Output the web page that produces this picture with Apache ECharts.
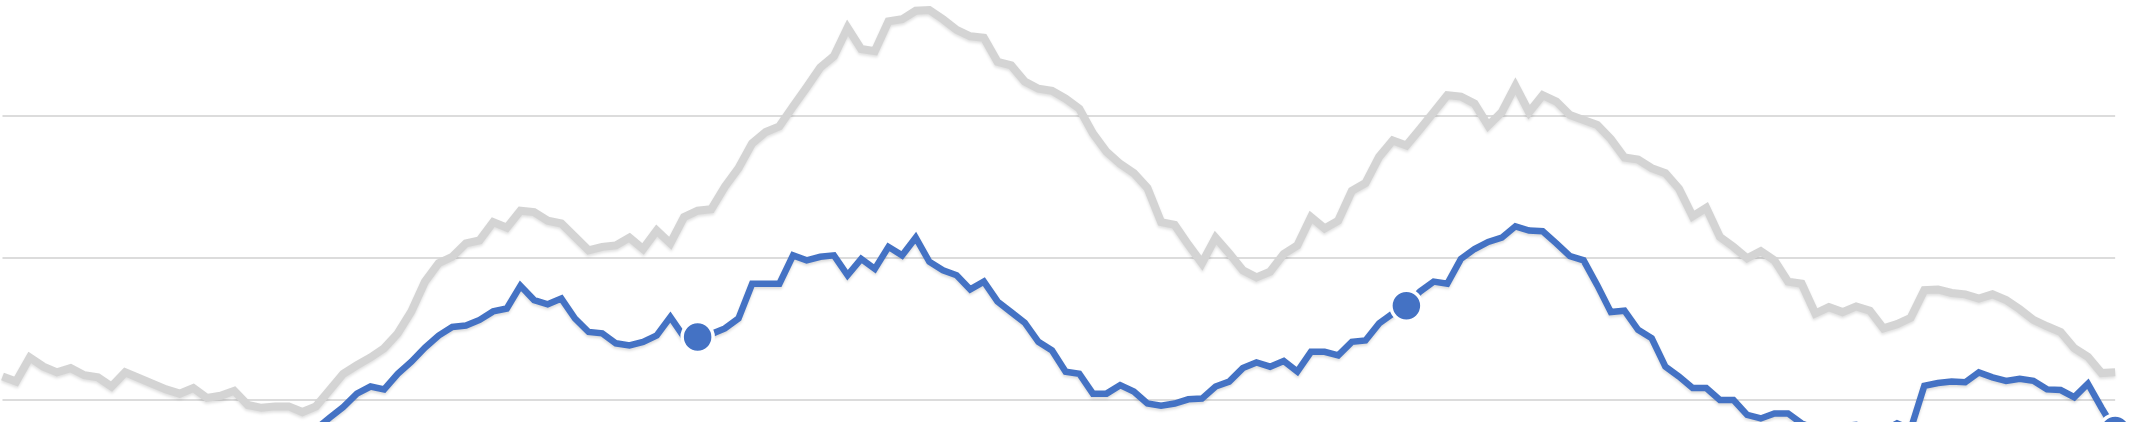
<!DOCTYPE html>
<html>
<head>
<meta charset="utf-8">
<script src="https://cdn.jsdelivr.net/npm/echarts@6/dist/echarts.min.js"></script>
<style>
html,body{margin:0;padding:0;background:#ffffff;}
#chart{width:2130px;height:422px;}
</style>
</head>
<body>
<div id="chart"></div>
<script>
// ---- data (weekly, 3 years x 52 weeks) ----
const years = ['Y1', 'Y2', 'Y3'];
const weeksPerYear = 52;

// light gray series
const grayValues = [
  41.6, 41.25, 42.95, 42.3, 41.9, 42.2, 41.7, 41.55, 40.9, 41.9,
  41.5, 41.1, 40.7, 40.4, 40.8, 40.1, 40.25, 40.6, 39.6, 39.4,
  39.5, 39.5, 39.1, 39.5, 40.65, 41.8, 42.4, 42.95, 43.6, 44.65,
  46.2, 48.3, 49.6, 50.05, 51.0, 51.2, 52.5, 52.1, 53.3, 53.2,
  52.6, 52.4, 51.45, 50.5, 50.75, 50.85, 51.4, 50.6, 51.9, 51.0,
  52.85, 53.3, 53.4, 55.0, 56.3, 58.05, 58.85, 59.25, 60.65, 62.0,
  63.4, 64.2, 66.2, 64.7, 64.55, 66.65, 66.8, 67.4, 67.45, 66.8,
  66.05, 65.6, 65.5, 63.8, 63.55, 62.4, 61.9, 61.75, 61.2, 60.5,
  58.75, 57.45, 56.6, 55.95, 54.9, 52.5, 52.3, 50.9, 49.6, 51.4,
  50.3, 49.1, 48.6, 49.0, 50.25, 50.85, 52.85, 52.05, 52.6, 54.7,
  55.25, 57.1, 58.25, 57.9, 59.05, 60.25, 61.45, 61.35, 60.85, 59.3,
  60.25, 62.1, 60.25, 61.45, 61.0, 60.05, 59.7, 59.35, 58.35, 57.05,
  56.9, 56.3, 55.95, 54.85, 52.9, 53.5, 51.45, 50.75, 49.95, 50.45,
  49.8, 48.3, 48.15, 46.05, 46.5, 46.15, 46.55, 46.25, 45.0, 45.3,
  45.75, 47.7, 47.75, 47.5, 47.4, 47.1, 47.4, 47.0, 46.35, 45.6,
  45.15, 44.75, 43.6, 43.0, 41.85, 41.9
];

// blue series
const blueValues = [
  36.8, 36.5, 36.9, 36.6, 36.4, 36.7, 36.3, 36.1, 36.4, 36.0,
  35.8, 36.1, 35.9, 35.6, 35.9, 35.7, 35.5, 35.8, 36.0, 36.3,
  36.6, 37.0, 37.4, 37.9, 38.7, 39.45, 40.4, 40.9, 40.7, 41.8,
  42.65, 43.65, 44.5, 45.1, 45.2, 45.6, 46.2, 46.4, 48.0, 47.0,
  46.7, 47.1, 45.7, 44.75, 44.65, 43.95, 43.8, 44.05, 44.5, 45.8,
  44.4, 44.4, 44.6, 45.0, 45.7, 48.15, 48.15, 48.15, 50.15, 49.8,
  50.05, 50.15, 48.75, 49.9, 49.2, 50.75, 50.15, 51.4, 49.7, 49.1,
  48.75, 47.75, 48.3, 46.9, 46.15, 45.4, 44.05, 43.45, 41.95, 41.8,
  40.4, 40.4, 41.0, 40.55, 39.7, 39.55, 39.7, 40.0, 40.05, 40.9,
  41.25, 42.2, 42.6, 42.3, 42.7, 41.95, 43.35, 43.35, 43.1, 44.05,
  44.15, 45.35, 46.05, 46.6, 47.6, 48.3, 48.15, 49.9, 50.6, 51.1,
  51.4, 52.2, 51.9, 51.85, 51.0, 50.1, 49.8, 48.05, 46.15, 46.25,
  44.9, 44.3, 42.3, 41.6, 40.8, 40.8, 39.95, 39.95, 38.9, 38.65,
  39.0, 39.0, 38.3, 37.9, 38.0, 38.1, 38.2, 37.9, 37.8, 38.3,
  37.9, 40.95, 41.15, 41.25, 41.2, 41.9, 41.55, 41.3, 41.45, 41.3,
  40.7, 40.65, 40.15, 41.1, 39.4, 37.8
];

// year-end points highlighted with a dot on the blue line
const markerIdx = [51, 103, 155];

// y-axis gridline values
const yMin = 30, yMax = 70, yStep = 10;

// ---- build ----
const categories = [];
years.forEach(y => { for (let w = 1; w <= weeksPerYear; w++) categories.push(y + '-W' + w); });

const blueData = blueValues.map((v, i) => markerIdx.includes(i)
  ? { value: v, symbol: 'circle', symbolSize: 31,
      itemStyle: { color: '#4472C4', borderColor: '#ffffff', borderWidth: 3.5 } }
  : { value: v, symbol: 'none' });

const chart = echarts.init(document.getElementById('chart'), null, { renderer: 'canvas' });
chart.setOption({
  animation: false,
  backgroundColor: '#ffffff',
  grid: { left: 2.5, right: 14.85, top: -26.1, bottom: -119.1, outerBoundsMode: 'none', containLabel: false },
  xAxis: {
    type: 'category', data: categories, boundaryGap: false,
    axisLine: { show: false }, axisTick: { show: false }, axisLabel: { show: false },
    splitLine: { show: false }
  },
  yAxis: {
    type: 'value', min: yMin, max: yMax, interval: yStep,
    axisLine: { show: false }, axisTick: { show: false }, axisLabel: { show: false },
    splitLine: { show: true, lineStyle: { color: '#dcdcdc', width: 2 } }
  },
  series: [
    {
      name: 'Gray', type: 'line', data: grayValues, symbol: 'none',
      lineStyle: { color: '#d4d4d4', width: 8, join: 'miter',
        shadowColor: 'rgba(0,0,0,0.12)', shadowBlur: 3, shadowOffsetY: 2 },
      z: 2
    },
    {
      name: 'Blue', type: 'line', data: blueData, symbol: 'none',
      showSymbol: true, showAllSymbol: true,
      lineStyle: { color: '#4472C4', width: 6.5, join: 'miter',
        shadowColor: 'rgba(0,0,0,0.15)', shadowBlur: 3, shadowOffsetY: 2 },
      itemStyle: { color: '#4472C4' },
      z: 3
    }
  ]
});
</script>
</body>
</html>
